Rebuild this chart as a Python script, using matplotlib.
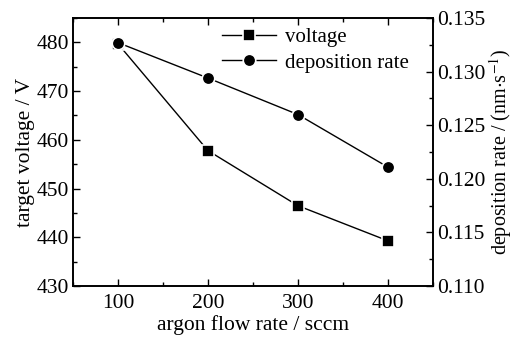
import matplotlib
matplotlib.use("Agg")
import matplotlib.pyplot as plt
from matplotlib.ticker import MultipleLocator

# ── data ──────────────────────────────────────────────────────────────────────
flow = [100, 200, 300, 400]
voltage = [479.7, 457.8, 446.5, 439.3]
dep_rate = [0.1327, 0.1294, 0.1260, 0.1211]

plt.rcParams["font.family"] = ["Liberation Serif", "DejaVu Serif"]
plt.rcParams["mathtext.fontset"] = "stix"

FS = 15.5

fig, ax = plt.subplots(figsize=(5.14, 3.39), dpi=100)
fig.subplots_adjust(left=0.142, right=0.842, top=0.947, bottom=0.156)
ax2 = ax.twinx()

style = dict(color="black", linewidth=1.0, markersize=9,
             markeredgecolor="white", markeredgewidth=1.2)
l1, = ax.plot(flow, voltage, marker="s", label="voltage", zorder=3, **style)
l2, = ax2.plot(flow, dep_rate, marker="o", label="deposition rate", zorder=3, **style)

ax.set_xlim(50, 450)
ax.set_ylim(430, 485)
ax2.set_ylim(0.110, 0.135)

ax.xaxis.set_major_locator(MultipleLocator(100))
ax.xaxis.set_minor_locator(MultipleLocator(50))
ax.yaxis.set_major_locator(MultipleLocator(10))
ax.yaxis.set_minor_locator(MultipleLocator(5))
ax2.yaxis.set_major_locator(MultipleLocator(0.005))
ax2.yaxis.set_minor_locator(MultipleLocator(0.0025))
ax2.yaxis.set_major_formatter(plt.FuncFormatter(lambda v, _: f"{v:.3f}"))

ax.tick_params(axis="x", which="both", direction="in", top=True, labelsize=FS, pad=6)
ax.tick_params(axis="y", which="both", direction="in", labelsize=FS, pad=3)
ax2.tick_params(axis="y", which="both", direction="in", labelsize=FS, pad=3)
for a in (ax, ax2):
    a.tick_params(which="major", length=5, width=1.0)
    a.tick_params(which="minor", length=3, width=1.0)
    for s in a.spines.values():
        s.set_linewidth(1.2)

ax.set_xlabel("argon flow rate / sccm", fontsize=FS, labelpad=1)
ax.set_ylabel("target voltage / V", fontsize=FS, labelpad=1)
ax2.set_ylabel("deposition rate / (nm$\\cdot$s$^{-1}$)", fontsize=14.5, labelpad=1)

ax.legend(handles=[l1, l2], loc="upper left", frameon=False, fontsize=15,
          numpoints=1, handlelength=2.6, handletextpad=0.4,
          borderaxespad=0, borderpad=0, labelspacing=0.3,
          bbox_to_anchor=(0.415, 0.965))

fig.savefig("out.png", dpi=100)
